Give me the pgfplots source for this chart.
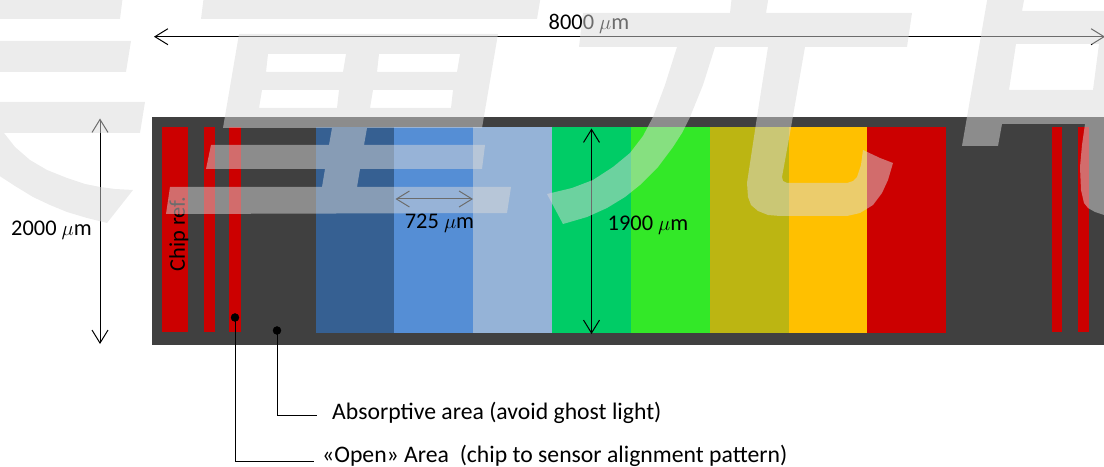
\documentclass[border=0pt]{standalone}
\usepackage{pgfplots}
\usepackage{fontspec}
\setmainfont{Carlito}
\usetikzlibrary{arrows.meta}
\pgfplotsset{compat=1.18}
\definecolor{panel}{HTML}{404040}
\definecolor{rred}{HTML}{CC0000}
\definecolor{blueA}{HTML}{366092}
\definecolor{blueB}{HTML}{558ED5}
\definecolor{blueC}{HTML}{95B3D7}
\definecolor{greenA}{HTML}{00CC66}
\definecolor{greenB}{HTML}{33E828}
\definecolor{olive}{HTML}{BCB512}
\definecolor{amber}{HTML}{FFC000}
\definecolor{mark}{HTML}{D9D9D9}
\tikzset{dim/.style={draw=black,line width=1pt,{Straight Barb[length=13pt,width=16pt,line width=1pt]}-{Straight Barb[length=13pt,width=16pt,line width=1pt]}}}
\begin{document}
\begin{tikzpicture}
\begin{axis}[
    hide axis,
    scale only axis,
    width=1104pt, height=468pt,
    xmin=0, xmax=1104, ymin=0, ymax=468,
    y dir=reverse,
    unbounded coords=jump,
]
% panel
\addplot[fill=panel,draw=none] coordinates {(152,117)(1110,117)(1110,345)(152,345)};
% alignment marks
\addplot[fill=rred,draw=none] coordinates {(162.3,127.3)(188.3,127.3)(188.3,332)(162.3,332)};
\addplot[fill=rred,draw=none] coordinates {(203.7,127.3)(215.3,127.3)(215.3,332)(203.7,332)};
\addplot[fill=rred,draw=none] coordinates {(229.3,127.3)(241.3,127.3)(241.3,332)(229.3,332)};
\addplot[fill=rred,draw=none] coordinates {(1051.7,127.3)(1062.3,127.3)(1062.3,332)(1051.7,332)};
\addplot[fill=rred,draw=none] coordinates {(1077.7,127.3)(1088.7,127.3)(1088.7,332)(1077.7,332)};
% filter bands
\addplot[fill=blueA,draw=none] coordinates {(315.7,127.3)(394.3,127.3)(394.3,333.3)(315.7,333.3)};
\addplot[fill=blueB,draw=none] coordinates {(394.3,127.3)(473.3,127.3)(473.3,333.3)(394.3,333.3)};
\addplot[fill=blueC,draw=none] coordinates {(473.3,127.3)(552.3,127.3)(552.3,333.3)(473.3,333.3)};
\addplot[fill=greenA,draw=none] coordinates {(552.3,127.3)(631,127.3)(631,333.3)(552.3,333.3)};
\addplot[fill=greenB,draw=none] coordinates {(631,127.3)(710,127.3)(710,333.3)(631,333.3)};
\addplot[fill=olive,draw=none] coordinates {(710,127.3)(789,127.3)(789,333.3)(710,333.3)};
\addplot[fill=amber,draw=none] coordinates {(789,127.3)(867,127.3)(867,333.3)(789,333.3)};
\addplot[fill=rred,draw=none] coordinates {(867,127.3)(945.7,127.3)(945.7,333.3)(867,333.3)};
% dimension arrows
\addplot[dim] coordinates {(154,36.7)(1105,36.7)};
\addplot[dim] coordinates {(100,118.5)(100,344)};
\addplot[dim] coordinates {(591.5,128.5)(591.5,334)};
\addplot[dim] coordinates {(395.5,199)(473,199)};
% leaders
\addplot[black,line width=1pt] coordinates {(235,317.5)(235,461)(314,461)};
\addplot[black,line width=1pt] coordinates {(277,330.5)(277,415)(317,415)};
\addplot[only marks,mark=*,mark size=4pt,black] coordinates {(235,317.5)(277,330.5)};
% labels
\node[font=\fontsize{22.4}{26}\selectfont,anchor=center] at (axis cs:589,24) {8000 $\mu$m};
\node[font=\fontsize{22.4}{26}\selectfont,anchor=center] at (axis cs:51.5,230) {2000 $\mu$m};
\node[font=\fontsize{22.4}{26}\selectfont,anchor=center] at (axis cs:439.5,223) {725 $\mu$m};
\node[font=\fontsize{22.4}{26}\selectfont,anchor=center] at (axis cs:648,225) {1900 $\mu$m};
\node[font=\fontsize{22.4}{26}\selectfont,rotate=90,anchor=center] at (axis cs:179,234) {Chip ref.};
\node[font=\fontsize{23.7}{28}\selectfont,anchor=west,inner sep=0pt] at (axis cs:332,413) {Absorptive area (avoid ghost light)};
\node[font=\fontsize{23.7}{28}\selectfont,anchor=west,inner sep=0pt] at (axis cs:322,455.5) {«Open» Area\ \ (chip to sensor alignment pattern)};
% overlay glyphs
\addplot[fill=mark,fill opacity=0.5,draw=none,even odd rule] coordinates {
  (-5,-5)(123,-5)(120,19)(-5,19)
  (nan,nan)
  (-5,41)(131,41)(126,72)(-5,72)
  (nan,nan)
  (-5,102)(145,102)(140,133)(4,133)(15,147)(30,160)(47,170)(67,178)(85,184)(100,187)(115,189)(133,190)(107,223)(87,218)(67,212)(50,205)(33,197)(15,186)(-5,173)
  (nan,nan)
  (204,-5)(541,-5)(537,19)(201,19)
  (nan,nan)
  (239,34)(498,34)(482,128)(367,128)(364,145)(485,145)(482,169)(360,169)(357,187)(511,187)(507,213)(166,214)(170,187)(322,187)(325,169)(206,169)(211,145)(329,145)(332,128)(223,128)
  (nan,nan)
  (268,54)(346,54)(343,72)(266,72)
  (nan,nan)
  (262,90)(339,90)(337,108)(259,108)
  (nan,nan)
  (379,54)(460,54)(457,72)(377,72)
  (nan,nan)
  (373,90)(453,90)(451,108)(370,108)
  (nan,nan)
  (732,-5)(769,-5)(766,13)(912,13)(907,47)(805,47)(790,133)(782,177)(783,181)(787,183)(847,183)(853,181)(857,177)(861,165)(863,150)(880,158)(893,163)(888,180)(882,193)(873,205)(860,213)(847,216)(780,216)(768,215)(758,211)(751,205)(748,197)(747,183)(757,117)(768,47)(715,47)(703,85)(690,117)(682,133)(673,147)(658,167)(640,185)(625,197)(607,208)(587,217)(563,224)(547,194)(572,188)(593,180)(613,167)(630,153)(643,136)(653,117)(665,85)(677,47)(579,47)(583,13)(730,13)
  (nan,nan)
  (988,-5)(1025,-5)(1022,11)(1110,11)(1110,217)(1104,215)(1095,212)(1088,208)(1084,203)(1081,190)(1080,167)(1082,145)(1085,124)(1002,124)(998,146)(962,146)
  (nan,nan)
  (1016,44)(1099,44)(1093,90)(1009,90)
};
\end{axis}
\end{tikzpicture}
\end{document}
